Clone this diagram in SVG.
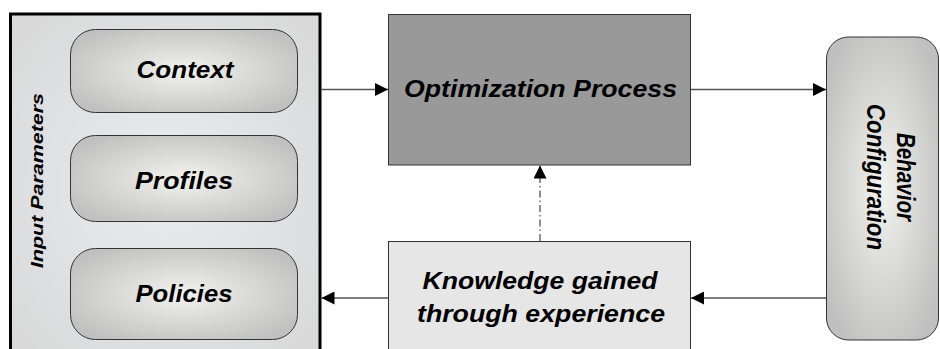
<svg xmlns="http://www.w3.org/2000/svg" width="940" height="349" viewBox="0 0 940 349">
<defs>
<radialGradient id="pill" cx="50%" cy="50%" r="60%">
<stop offset="0" stop-color="#f2f2ee"/>
<stop offset="1" stop-color="#c0c0c0"/>
</radialGradient>
<radialGradient id="panel" cx="50%" cy="50%" r="70%">
<stop offset="0" stop-color="#e9ecef"/>
<stop offset="1" stop-color="#d8d8d8"/>
</radialGradient>
<marker id="arr" viewBox="0 0 10 10" refX="10" refY="5" markerWidth="13" markerHeight="13" markerUnits="userSpaceOnUse" orient="auto">
<path d="M0,0 L10,5 L0,10 z" fill="#000"/>
</marker>
</defs>
<style>
.t{font-family:"Liberation Sans",Arial,sans-serif;font-weight:bold;font-style:italic;fill:#000;}
.pill{fill:url(#pill);stroke:#333;stroke-width:1;}
.conn{stroke:#555;stroke-width:1.3;fill:none;}
</style>
<rect width="940" height="349" fill="#fff"/>
<g id="input-parameters">
<rect x="10.5" y="14" width="309.5" height="345" fill="url(#panel)" stroke="#000" stroke-width="3"/>
<text class="t" font-size="17" transform="translate(43,180.5) rotate(-90)" text-anchor="middle" textLength="175" lengthAdjust="spacingAndGlyphs">Input Parameters</text>
</g>
<g id="context">
<rect class="pill" x="70.5" y="29.5" width="227" height="83" rx="25"/>
<text class="t" font-size="24.5" x="185" y="78" text-anchor="middle" textLength="97" lengthAdjust="spacingAndGlyphs">Context</text>
</g>
<g id="profiles">
<rect class="pill" x="70.5" y="135.5" width="227" height="86" rx="25"/>
<text class="t" font-size="24.5" x="184" y="189" text-anchor="middle" textLength="98" lengthAdjust="spacingAndGlyphs">Profiles</text>
</g>
<g id="policies">
<rect class="pill" x="70.5" y="248.5" width="227" height="91" rx="25"/>
<text class="t" font-size="24.5" x="184" y="302" text-anchor="middle" textLength="97" lengthAdjust="spacingAndGlyphs">Policies</text>
</g>
<g id="optimization-process">
<rect x="388.5" y="14.5" width="302" height="150.5" fill="#999" stroke="#333" stroke-width="1"/>
<text class="t" font-size="24.5" x="540.5" y="97" text-anchor="middle" textLength="273" lengthAdjust="spacingAndGlyphs">Optimization Process</text>
</g>
<g id="knowledge">
<rect x="388.5" y="241.5" width="302" height="120" fill="#e6e6e6" stroke="#333" stroke-width="1"/>
<text class="t" font-size="24.5" x="540" y="289" text-anchor="middle" textLength="235" lengthAdjust="spacingAndGlyphs">Knowledge gained</text>
<text class="t" font-size="24.5" x="541" y="321.5" text-anchor="middle" textLength="248" lengthAdjust="spacingAndGlyphs">through experience</text>
</g>
<g id="behavior-configuration">
<rect class="pill" x="826.5" y="37" width="112" height="303" rx="22"/>
<text class="t" font-size="24" transform="translate(897,177) rotate(90) scale(1,1.1)" text-anchor="middle" textLength="88" lengthAdjust="spacingAndGlyphs">Behavior</text>
<text class="t" font-size="24" transform="translate(867,177) rotate(90) scale(1,1.1)" text-anchor="middle" textLength="146" lengthAdjust="spacingAndGlyphs">Configuration</text>
</g>
<g id="connectors">
<line class="conn" x1="321" y1="89.5" x2="388" y2="89.5" marker-end="url(#arr)"/>
<line class="conn" x1="691" y1="89.5" x2="826" y2="89.5" marker-end="url(#arr)"/>
<line class="conn" x1="826" y1="298" x2="691" y2="298" marker-end="url(#arr)"/>
<line class="conn" x1="388" y1="298" x2="321.5" y2="298" marker-end="url(#arr)"/>
<line class="conn" x1="540" y1="241" x2="540" y2="165.5" stroke="#000" stroke-dasharray="7,3,1.5,3" marker-end="url(#arr)"/>
</g>
</svg>
